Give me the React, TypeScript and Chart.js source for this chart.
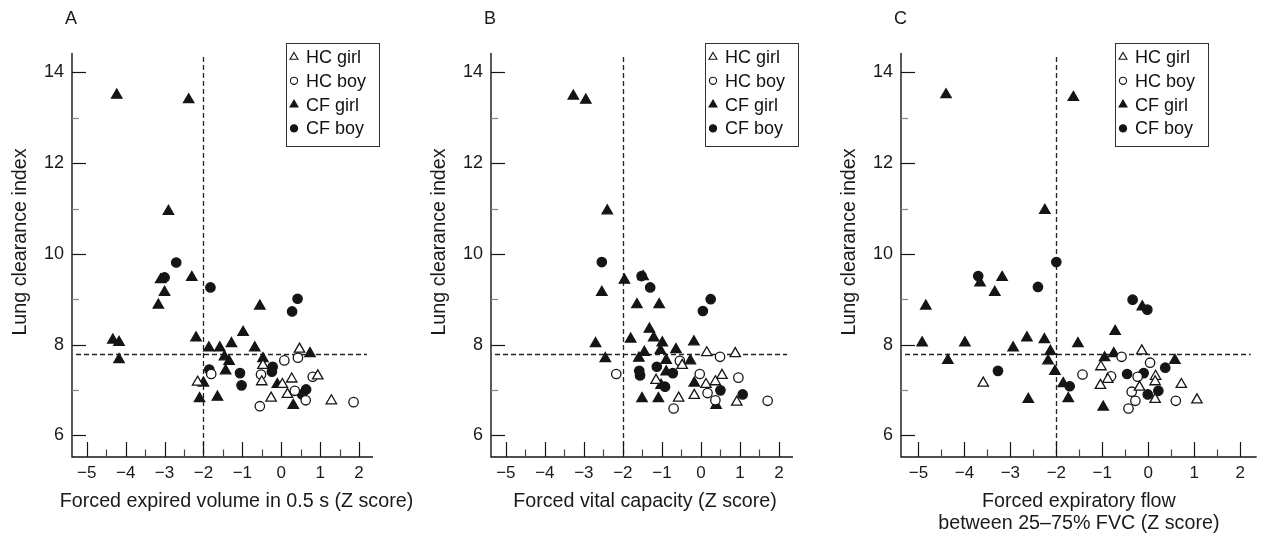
import React, { useEffect, useRef } from 'react';
import { Chart, registerables } from 'chart.js';

Chart.register(...registerables);

// ---- axis settings (values) ----
const X_MIN = -5.38;
const X_MAX = 2.36;
const Y_MIN = 5.52;
const Y_MAX = 14.43;
const X_TICKS = [-5, -4.5, -4, -3.5, -3, -2.5, -2, -1.5, -1, -0.5, 0, 0.5, 1, 1.5, 2];
const Y_TICKS = [6, 7, 8, 9, 10, 11, 12, 13, 14];
const Y_LABELED = [6, 8, 10, 12, 14];
const REF_X = -2;
const REF_Y = 7.8;

const SERIES_LABELS = ['HC girl', 'HC boy', 'CF girl', 'CF boy'];
const PANEL_LETTERS = ['A', 'B', 'C'];
const Y_TITLE = 'Lung clearance index';
const X_TITLES: string[][] = [
  ['Forced expired volume in 0.5 s (Z score)'],
  ['Forced vital capacity (Z score)'],
  ['Forced expiratory flow', 'between 25\u201375% FVC (Z score)'],
];

// ---- panel A : FEV0.5 ----
const A_HC_GIRL = [[-2.15, 7.17], [0.47, 7.9], [-0.47, 7.54], [-0.5, 7.18], [0.94, 7.31], [0.03, 7.12], [0.27, 7.24], [0.16, 6.9], [-0.26, 6.82], [1.29, 6.76]];
const A_HC_BOY = [[-1.8, 7.35], [-0.55, 6.64], [0.43, 7.71], [0.08, 7.65], [-0.52, 7.34], [0.81, 7.29], [0.35, 6.98], [0.63, 6.77], [1.86, 6.73]];
const A_CF_GIRL = [[-4.23, 13.5], [-2.38, 13.4], [-2.9, 10.94], [-3.1, 9.43], [-2.3, 9.48], [-3.0, 9.15], [-3.16, 8.87], [-0.55, 8.85], [-4.33, 8.1], [-4.17, 8.05], [-4.17, 7.67], [-2.19, 8.15], [-1.86, 7.93], [-1.58, 7.93], [-1.28, 8.02], [-0.98, 8.27], [-0.68, 7.93], [-1.46, 7.73], [-1.34, 7.63], [-1.43, 7.42], [-2.0, 7.15], [-2.1, 6.81], [-1.64, 6.84], [0.74, 7.8], [-0.47, 7.69], [-0.1, 7.12], [0.31, 6.66]];
const A_CF_BOY = [[-2.7, 9.81], [-3.0, 9.48], [-1.82, 9.26], [-1.85, 7.45], [-1.06, 7.37], [-1.02, 7.1], [0.42, 9.01], [0.28, 8.73], [-0.22, 7.51], [-0.24, 7.4], [0.64, 7.01], [0.54, 6.9]];

// ---- panel B : FVC ----
const B_HC_GIRL = [[-1.15, 7.21], [0.15, 7.82], [0.88, 7.8], [-0.48, 7.54], [0.54, 7.32], [0.13, 7.12], [0.37, 7.18], [-0.17, 6.88], [-0.57, 6.82], [0.92, 6.73]];
const B_HC_BOY = [[-2.17, 7.35], [0.49, 7.73], [-0.54, 7.64], [-0.03, 7.35], [0.96, 7.27], [0.17, 6.93], [0.37, 6.77], [-0.7, 6.59], [1.71, 6.76]];
const B_CF_GIRL = [[-3.27, 13.48], [-2.95, 13.39], [-2.4, 10.95], [-1.96, 9.42], [-1.48, 9.5], [-2.54, 9.15], [-1.64, 8.88], [-1.07, 8.88], [-2.7, 8.02], [-2.45, 7.69], [-1.8, 8.12], [-1.32, 8.34], [-1.21, 8.15], [-0.99, 8.04], [-1.04, 7.87], [-1.45, 7.83], [-1.59, 7.7], [-0.89, 7.65], [-0.89, 7.4], [-1.02, 7.1], [-1.51, 6.81], [-1.09, 6.81], [-0.18, 8.06], [-0.64, 7.89], [-0.27, 7.64], [-0.17, 7.15], [0.39, 6.66]];
const B_CF_BOY = [[-2.54, 9.82], [-1.52, 9.51], [-1.3, 9.26], [0.25, 9.0], [0.05, 8.74], [-1.58, 7.42], [-1.56, 7.32], [-1.13, 7.51], [-0.92, 7.07], [-0.72, 7.37], [0.5, 6.99], [1.07, 6.9]];

// ---- panel C : FEF25-75 ----
const C_HC_GIRL = [[-3.59, 7.15], [-0.14, 7.86], [-1.03, 7.51], [0.16, 7.3], [0.15, 7.18], [-0.88, 7.23], [-1.04, 7.1], [-0.19, 7.06], [0.15, 6.79], [0.72, 7.12], [1.06, 6.78]];
const C_HC_BOY = [[-0.58, 7.73], [0.04, 7.6], [-1.43, 7.34], [-0.81, 7.3], [-0.23, 7.29], [-0.36, 6.96], [-0.28, 6.76], [-0.43, 6.59], [0.6, 6.76]];
const C_CF_GIRL = [[-4.4, 13.51], [-1.63, 13.45], [-2.25, 10.96], [-3.66, 9.36], [-3.18, 9.48], [-3.34, 9.15], [-4.84, 8.85], [-4.92, 8.04], [-4.36, 7.65], [-3.99, 8.04], [-2.94, 7.93], [-2.64, 8.15], [-2.26, 8.11], [-2.13, 7.85], [-2.18, 7.64], [-2.03, 7.41], [-1.85, 7.14], [-2.61, 6.79], [-1.74, 6.81], [-1.53, 8.02], [-0.13, 8.83], [-0.72, 8.29], [-0.75, 7.8], [-0.95, 7.71], [-0.98, 6.62], [0.58, 7.65]];
const C_CF_BOY = [[-2.0, 9.82], [-3.7, 9.51], [-2.4, 9.27], [-3.27, 7.42], [-1.71, 7.08], [-0.34, 8.99], [-0.02, 8.77], [-0.46, 7.35], [-0.1, 7.37], [0.37, 7.49], [-0.01, 6.9], [0.22, 6.98]];

const PANEL_DATA = [
  [A_HC_GIRL, A_HC_BOY, A_CF_GIRL, A_CF_BOY],
  [B_HC_GIRL, B_HC_BOY, B_CF_GIRL, B_CF_BOY],
  [C_HC_GIRL, C_HC_BOY, C_CF_GIRL, C_CF_BOY],
];

// ---- layout / style ----
const PANEL_LAYOUT = [
  { left: 0, width: 420, areaRight: 373, titleShift: 14 },
  { left: 419, width: 420, areaRight: 374, titleShift: 3 },
  { left: 829, width: 435, areaRight: 433, titleShift: 0 },
];
const AREA_LEFT = 72;
const AREA_TOP = 53;
const CANVAS_H = 536;
const AREA_BOTTOM = 457;
const X_TITLE_Y = 502;
const X_TITLE_LINE = 21.6;
const Y_TITLE_X = 21;
const Y_TITLE_Y = 242;
const INK = '#151515';
const SANS = "'Liberation Sans', Arial, sans-serif";

const fmtX = (v: number) => (v < 0 ? '\u2212' + Math.abs(v) : String(v));

const decorPlugin = {
  id: 'decor',
  beforeDatasetsDraw(chart: any) {
    const { ctx, chartArea, scales } = chart;
    const { left, right, top, bottom } = chartArea;
    const xs = scales.x;
    const ys = scales.y;
    ctx.save();
    // dashed reference lines
    ctx.strokeStyle = '#222';
    ctx.lineWidth = 1.3;
    ctx.setLineDash([5, 3]);
    const rx = Math.round(xs.getPixelForValue(REF_X)) + 0.5;
    ctx.beginPath();
    ctx.moveTo(rx, top + 4);
    ctx.lineTo(rx, bottom);
    ctx.stroke();
    const ry = Math.round(ys.getPixelForValue(REF_Y)) + 0.5;
    ctx.beginPath();
    ctx.moveTo(left + 4, ry);
    ctx.lineTo(right - 6, ry);
    ctx.stroke();
    ctx.setLineDash([]);
    // axes
    ctx.strokeStyle = INK;
    ctx.lineWidth = 1.4;
    ctx.beginPath();
    ctx.moveTo(left, top);
    ctx.lineTo(left, bottom);
    ctx.lineTo(right, bottom);
    ctx.stroke();
    // x ticks (inward)
    ctx.lineWidth = 1.2;
    for (const t of xs.ticks) {
      const px = Math.round(xs.getPixelForValue(t.value)) + 0.5;
      const major = Number.isInteger(t.value);
      ctx.strokeStyle = major ? INK : '#444';
      ctx.beginPath();
      ctx.moveTo(px, bottom);
      ctx.lineTo(px, bottom - (major ? 15 : 7.5));
      ctx.stroke();
    }
    // y ticks (inward)
    for (const t of ys.ticks) {
      const py = Math.round(ys.getPixelForValue(t.value)) + 0.5;
      const major = Y_LABELED.includes(t.value);
      ctx.strokeStyle = major ? INK : '#888';
      ctx.beginPath();
      ctx.moveTo(left, py);
      ctx.lineTo(left + (major ? 14 : 7), py);
      ctx.stroke();
    }
    ctx.restore();
  },
  afterDraw(chart: any) {
    const { ctx, chartArea } = chart;
    const opts = chart.options.plugins.decor || {};
    // axis titles
    ctx.save();
    ctx.fillStyle = '#1a1a1a';
    ctx.font = `19.7px ${SANS}`;
    ctx.textAlign = 'center';
    ctx.textBaseline = 'middle';
    const lines: string[] = opts.xTitle || [];
    const cx = (chartArea.left + chartArea.right) / 2 + (opts.titleShift || 0);
    lines.forEach((ln, i) => ctx.fillText(ln, cx, X_TITLE_Y + i * X_TITLE_LINE));
    ctx.translate(Y_TITLE_X, Y_TITLE_Y);
    ctx.rotate(-Math.PI / 2);
    ctx.fillText(opts.yTitle || '', 0, 0);
    ctx.restore();

    // legend box
    const bx = chartArea.left + 214;
    const by = chartArea.top - 10;
    const bw = 93;
    const bh = 103;
    ctx.save();
    ctx.fillStyle = '#fff';
    ctx.fillRect(bx, by, bw, bh);
    ctx.strokeStyle = '#333';
    ctx.lineWidth = 1;
    ctx.strokeRect(bx + 0.5, by + 0.5, bw, bh);
    chart.data.datasets.forEach((ds: any, i: number) => {
      const cy = by + 14 + i * 23.8;
      const sx = bx + 8;
      ctx.lineWidth = 1.1;
      ctx.strokeStyle = INK;
      ctx.fillStyle = ds.backgroundColor;
      ctx.beginPath();
      if (ds.pointStyle === 'triangle') {
        const r = 4.6;
        ctx.moveTo(sx, cy - r);
        ctx.lineTo(sx + r * 0.866, cy + r * 0.5);
        ctx.lineTo(sx - r * 0.866, cy + r * 0.5);
        ctx.closePath();
      } else {
        ctx.arc(sx, cy, 3.6, 0, Math.PI * 2);
      }
      ctx.fill();
      ctx.stroke();
      ctx.fillStyle = '#111';
      ctx.font = `18px ${SANS}`;
      ctx.textBaseline = 'middle';
      ctx.textAlign = 'left';
      ctx.fillText(ds.label, bx + 20, cy + 1);
    });
    ctx.restore();
  },
};

function Panel({ index }: { index: number }) {
  const ref = useRef<HTMLCanvasElement | null>(null);
  const lay = PANEL_LAYOUT[index];
  useEffect(() => {
    if (!ref.current) return;
    const series = PANEL_DATA[index];
    const styles = [
      { pointStyle: 'triangle', fill: '#ffffff', r: 6 },
      { pointStyle: 'circle', fill: '#ffffff', r: 4.7 },
      { pointStyle: 'triangle', fill: INK, r: 6 },
      { pointStyle: 'circle', fill: INK, r: 4.7 },
    ];
    const chart = new Chart(ref.current, {
      type: 'scatter',
      data: {
        datasets: series.map((pts, i) => ({
          label: SERIES_LABELS[i],
          data: pts.map(([x, y]) => ({ x, y })),
          pointStyle: styles[i].pointStyle as any,
          pointRadius: styles[i].r,
          pointHoverRadius: styles[i].r,
          backgroundColor: styles[i].fill,
          pointBackgroundColor: styles[i].fill,
          borderColor: INK,
          pointBorderColor: INK,
          pointBorderWidth: 1.3,
          showLine: false,
        })),
      },
      options: {
        responsive: false,
        animation: false,
        events: [],
        layout: { padding: { top: AREA_TOP, right: lay.width - lay.areaRight, left: 0, bottom: 0 } },
        plugins: {
          legend: { display: false },
          tooltip: { enabled: false },
          title: { display: false },
          decor: { xTitle: X_TITLES[index], yTitle: Y_TITLE, titleShift: lay.titleShift },
        } as any,
        scales: {
          x: {
            type: 'linear',
            min: X_MIN,
            max: X_MAX,
            afterBuildTicks: (s: any) => {
              s.ticks = X_TICKS.map((v) => ({ value: v }));
            },
            afterFit: (s: any) => {
              s.height = CANVAS_H - AREA_BOTTOM;
            },
            grid: { display: false, drawTicks: false },
            border: { display: false },
            ticks: {
              autoSkip: false,
              maxRotation: 0,
              minRotation: 0,
              padding: 6,
              color: '#1a1a1a',
              font: { family: SANS, size: 17 },
              callback: (v: any) => (Number.isInteger(Number(v)) ? fmtX(Number(v)) : ''),
            },
            title: { display: false },
          },
          y: {
            type: 'linear',
            min: Y_MIN,
            max: Y_MAX,
            afterBuildTicks: (s: any) => {
              s.ticks = Y_TICKS.map((v) => ({ value: v }));
            },
            afterFit: (s: any) => {
              s.width = AREA_LEFT;
            },
            grid: { display: false, drawTicks: false },
            border: { display: false },
            ticks: {
              autoSkip: false,
              padding: 8,
              color: '#1a1a1a',
              font: { family: SANS, size: 18 },
              callback: (v: any) => (Y_LABELED.includes(Number(v)) ? String(v) : ''),
            },
            title: { display: false },
          },
        },
      },
      plugins: [decorPlugin],
    });
    return () => chart.destroy();
  }, [index]);
  return (
    <div style={{ position: 'absolute', left: lay.left, top: 0, width: lay.width, height: CANVAS_H }}>
      <canvas ref={ref} width={lay.width} height={CANVAS_H} style={{ width: lay.width, height: CANVAS_H, display: 'block' }} />
      <div
        style={{
          position: 'absolute',
          left: AREA_LEFT - 7,
          top: 8,
          fontFamily: SANS,
          fontSize: 18,
          color: '#1a1a1a',
          lineHeight: '20px',
        }}
      >
        {PANEL_LETTERS[index]}
      </div>
    </div>
  );
}

export default function App() {
  useEffect(() => {
    document.body.style.margin = '0';
    document.body.style.background = '#ffffff';
  }, []);
  return (
    <div style={{ position: 'relative', width: 1264, height: CANVAS_H, background: '#fff', overflow: 'hidden' }}>
      {PANEL_LETTERS.map((_, i) => (
        <Panel key={i} index={i} />
      ))}
    </div>
  );
}
